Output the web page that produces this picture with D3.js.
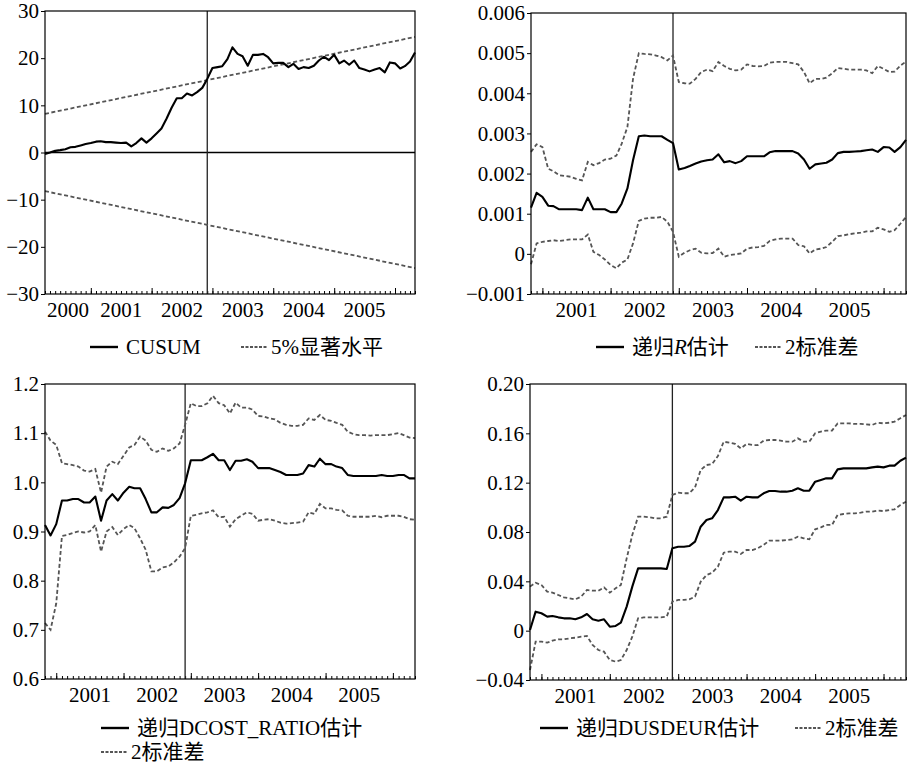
<!DOCTYPE html>
<html>
<head>
<meta charset="utf-8">
<script src="https://cdn.jsdelivr.net/npm/d3@7"></script>
<style>
body { margin: 0; background: #fff; }
</style>
</head>
<body>
<div id="chart"></div>
<script>
// monthly data; the CUSUM starts Apr 2000, the recursive estimates Nov 2000
const START_CUSUM = new Date(2000, 3, 1);
const START_REC = new Date(2000, 10, 1);
const BREAK_DATE = new Date(2002, 11, 1);

const cusum = [-0.3, 0, 0.35, 0.5, 0.7, 1.1, 1.2, 1.5, 1.8, 2.0,
  2.3, 2.4, 2.2, 2.2, 2.1, 2.0, 2.1, 1.3, 2.0, 3.0,
  2.1, 3.0, 4.1, 5.1, 7.2, 9.5, 11.5, 11.5, 12.5, 12.1,
  12.8, 13.7, 15.6, 17.9, 18.1, 18.3, 19.8, 22.3, 20.9, 20.4,
  18.4, 20.7, 20.7, 20.9, 20.2, 18.9, 19.0, 19.0, 18.1, 18.8,
  17.7, 18.1, 17.9, 18.4, 19.5, 20.3, 19.6, 20.7, 18.9, 19.5,
  18.6, 19.5, 17.9, 17.6, 17.2, 17.6, 17.9, 17.0, 19.1, 18.9,
  17.8, 18.3, 19.3, 21.2];
// 5% significance lines, first and last month
const cusumUpper = [8.2, 24.5];
const cusumLower = [-8.2, -24.5];

const rEst = [0.00115, 0.00152, 0.00142, 0.00120, 0.00119, 0.00111, 0.00111, 0.00111, 0.00111, 0.00109,
  0.00140, 0.00111, 0.00111, 0.00111, 0.00104, 0.00104, 0.00125, 0.00163, 0.00233, 0.00293,
  0.00295, 0.00293, 0.00293, 0.00293, 0.00284, 0.00276, 0.00210, 0.00214, 0.00219, 0.00225,
  0.00230, 0.00233, 0.00235, 0.00248, 0.00228, 0.00231, 0.00226, 0.00231, 0.00243, 0.00243,
  0.00243, 0.00243, 0.00253, 0.00256, 0.00256, 0.00256, 0.00256, 0.00250, 0.00235, 0.00212,
  0.00223, 0.00225, 0.00227, 0.00235, 0.00251, 0.00254, 0.00254, 0.00255, 0.00256, 0.00258,
  0.00260, 0.00254, 0.00266, 0.00265, 0.00254, 0.00266, 0.00284];
const rUpper = [0.00254, 0.00273, 0.00266, 0.00212, 0.00206, 0.00196, 0.00194, 0.00192, 0.00187, 0.00183,
  0.00229, 0.00221, 0.00226, 0.00235, 0.00237, 0.00245, 0.00274, 0.00316, 0.00436, 0.00500,
  0.00498, 0.00497, 0.00494, 0.00490, 0.00482, 0.00494, 0.00428, 0.00425, 0.00424, 0.00436,
  0.00453, 0.00459, 0.00455, 0.00478, 0.00468, 0.00461, 0.00457, 0.00459, 0.00472, 0.00468,
  0.00467, 0.00468, 0.00476, 0.00478, 0.00478, 0.00478, 0.00475, 0.00472, 0.00453, 0.00425,
  0.00436, 0.00436, 0.00439, 0.00450, 0.00463, 0.00461, 0.00459, 0.00459, 0.00459, 0.00457,
  0.00450, 0.00468, 0.00461, 0.00453, 0.00454, 0.00469, 0.00479];
const rLower = [-0.00026, 0.00026, 0.00030, 0.00032, 0.00034, 0.00032, 0.00034, 0.00036, 0.00036, 0.00036,
  0.00048, 0.00005, -0.00003, -0.00014, -0.00028, -0.00036, -0.00022, -0.00014, 0.00026, 0.00082,
  0.00088, 0.00090, 0.00090, 0.00092, 0.00080, 0.00055, -0.00007, 0.00003, 0.00009, 0.00013,
  0.00003, 0.00001, 0.00002, 0.00013, -0.00007, -0.00003, -0.00001, 0.00001, 0.00013, 0.00016,
  0.00017, 0.00020, 0.00032, 0.00036, 0.00038, 0.00038, 0.00038, 0.00022, 0.00019, 0.00001,
  0.00011, 0.00013, 0.00017, 0.00030, 0.00044, 0.00046, 0.00049, 0.00051, 0.00053, 0.00056,
  0.00056, 0.00065, 0.00061, 0.00055, 0.00059, 0.00075, 0.00092];

const costEst = [0.913, 0.892, 0.915, 0.963, 0.963, 0.966, 0.966, 0.959, 0.959, 0.971,
  0.922, 0.963, 0.976, 0.963, 0.979, 0.991, 0.988, 0.988, 0.966, 0.939,
  0.939, 0.949, 0.948, 0.954, 0.968, 0.998, 1.045, 1.045, 1.045, 1.051,
  1.058, 1.045, 1.045, 1.025, 1.044, 1.044, 1.047, 1.042, 1.029, 1.029,
  1.029, 1.025, 1.021, 1.015, 1.015, 1.015, 1.018, 1.035, 1.032, 1.048,
  1.037, 1.037, 1.032, 1.029, 1.015, 1.013, 1.013, 1.013, 1.013, 1.013,
  1.015, 1.013, 1.013, 1.015, 1.015, 1.008, 1.008];
const costUpper = [1.103, 1.085, 1.076, 1.039, 1.037, 1.035, 1.032, 1.024, 1.022, 1.027,
  0.979, 1.032, 1.042, 1.037, 1.054, 1.071, 1.076, 1.093, 1.085, 1.066,
  1.062, 1.069, 1.064, 1.069, 1.079, 1.117, 1.161, 1.155, 1.155, 1.161,
  1.176, 1.161, 1.157, 1.140, 1.162, 1.152, 1.152, 1.148, 1.135, 1.134,
  1.130, 1.128, 1.121, 1.117, 1.115, 1.115, 1.117, 1.130, 1.127, 1.137,
  1.127, 1.125, 1.121, 1.117, 1.103, 1.098, 1.096, 1.096, 1.095, 1.096,
  1.096, 1.096, 1.098, 1.100, 1.096, 1.091, 1.090];
const costLower = [0.714, 0.700, 0.754, 0.891, 0.893, 0.897, 0.900, 0.898, 0.900, 0.913,
  0.859, 0.900, 0.909, 0.893, 0.905, 0.913, 0.907, 0.886, 0.863, 0.819,
  0.819, 0.827, 0.829, 0.837, 0.849, 0.866, 0.932, 0.934, 0.937, 0.939,
  0.943, 0.929, 0.930, 0.910, 0.925, 0.932, 0.939, 0.936, 0.922, 0.924,
  0.925, 0.922, 0.918, 0.916, 0.917, 0.918, 0.920, 0.939, 0.936, 0.956,
  0.947, 0.947, 0.944, 0.943, 0.932, 0.930, 0.930, 0.930, 0.930, 0.932,
  0.929, 0.932, 0.932, 0.932, 0.930, 0.925, 0.924];

const usdEst = [0.0005, 0.0154, 0.0141, 0.0114, 0.0119, 0.0108, 0.0100, 0.0100, 0.0092, 0.0108,
  0.0135, 0.0092, 0.0081, 0.0092, 0.0032, 0.0038, 0.0065, 0.0195, 0.0357, 0.0505,
  0.0505, 0.0505, 0.0505, 0.0505, 0.0500, 0.0668, 0.0681, 0.0681, 0.0686, 0.0722,
  0.0843, 0.0897, 0.0911, 0.0978, 0.1081, 0.1081, 0.1086, 0.1054, 0.1086, 0.1081,
  0.1081, 0.1114, 0.1132, 0.1132, 0.1127, 0.1127, 0.1135, 0.1154, 0.1135, 0.1135,
  0.1208, 0.1222, 0.1235, 0.1235, 0.1308, 0.1316, 0.1316, 0.1316, 0.1316, 0.1316,
  0.1324, 0.1330, 0.1324, 0.1338, 0.1338, 0.1378, 0.1403];
const usdUpper = [0.0357, 0.0389, 0.0370, 0.0316, 0.0308, 0.0289, 0.0270, 0.0262, 0.0254, 0.0276,
  0.0330, 0.0324, 0.0324, 0.0351, 0.0308, 0.0343, 0.0370, 0.0586, 0.0776, 0.0924,
  0.0924, 0.0919, 0.0911, 0.0911, 0.0924, 0.1100, 0.1119, 0.1114, 0.1114, 0.1162,
  0.1303, 0.1343, 0.1351, 0.1416, 0.1532, 0.1524, 0.1514, 0.1478, 0.1514, 0.1505,
  0.1505, 0.1541, 0.1546, 0.1546, 0.1541, 0.1532, 0.1532, 0.1559, 0.1532, 0.1532,
  0.1600, 0.1614, 0.1622, 0.1622, 0.1681, 0.1681, 0.1681, 0.1676, 0.1676, 0.1673,
  0.1668, 0.1686, 0.1681, 0.1686, 0.1695, 0.1722, 0.1749];
const usdLower = [-0.0319, -0.0089, -0.0089, -0.0097, -0.0081, -0.0070, -0.0070, -0.0062, -0.0057, -0.0049,
  -0.0043, -0.0116, -0.0157, -0.0170, -0.0238, -0.0251, -0.0238, -0.0157, -0.0049, 0.0100,
  0.0108, 0.0108, 0.0108, 0.0108, 0.0114, 0.0235, 0.0249, 0.0249, 0.0254, 0.0276,
  0.0397, 0.0451, 0.0470, 0.0519, 0.0632, 0.0641, 0.0641, 0.0622, 0.0654, 0.0654,
  0.0668, 0.0695, 0.0730, 0.0730, 0.0730, 0.0735, 0.0741, 0.0762, 0.0749, 0.0741,
  0.0822, 0.0838, 0.0857, 0.0857, 0.0938, 0.0946, 0.0951, 0.0951, 0.0957, 0.0965,
  0.0965, 0.0973, 0.0970, 0.0978, 0.0984, 0.1019, 0.1046];

const ticks1 = [30, 20, 10, 0, -10, -20, -30];
const labels1 = ["30", "20", "10", "0", "\u221210", "\u221220", "\u221230"];
const ticks2 = [0.006, 0.005, 0.004, 0.003, 0.002, 0.001, 0, -0.001];
const labels2 = ["0.006", "0.005", "0.004", "0.003", "0.002", "0.001", "0", "\u22120.001"];
const ticks3 = [1.2, 1.1, 1.0, 0.9, 0.8, 0.7, 0.6];
const labels3 = ["1.2", "1.1", "1.0", "0.9", "0.8", "0.7", "0.6"];
const ticks4 = [0.20, 0.16, 0.12, 0.08, 0.04, 0, -0.04];
const labels4 = ["0.20", "0.16", "0.12", "0.08", "0.04", "0", "\u22120.04"];

const SOLID_NAMES = ["CUSUM", "递归R估计", "递归DCOST_RATIO估计", "递归DUSDEUR估计"];
const DASH_NAMES = ["5%显著水平", "2标准差", "2标准差", "2标准差"];

const WIDTH = 912, HEIGHT = 764;
const DASH = "4,2.5";
const FONT = "'Liberation Serif', 'DejaVu Serif', 'Noto Sans CJK SC', serif";

const svg = d3.select("#chart").append("svg")
  .attr("width", WIDTH)
  .attr("height", HEIGHT);

function months(start, values) {
  return values.map((v, i) => ({date: d3.timeMonth.offset(start, i), value: v}));
}

function drawPanel(p) {
  const last = d3.timeMonth.offset(p.start, p.n - 1);
  const x = d3.scaleTime().domain([p.start, last]).range([p.left, p.right]);
  const y = d3.scaleLinear().domain([p.ticks[p.ticks.length - 1], p.ticks[0]]).range([p.bottom, p.top]);
  const g = svg.append("g");

  // bottom axis: monthly minor ticks, yearly major ticks, inside the frame
  const minor = g.append("g").attr("transform", "translate(0," + p.bottom + ")")
    .call(d3.axisBottom(x).ticks(d3.timeMonth.every(1)).tickSize(-3).tickFormat(""));
  minor.select(".domain").remove();
  const major = g.append("g").attr("transform", "translate(0," + p.bottom + ")")
    .call(d3.axisBottom(x).ticks(d3.timeYear.every(1)).tickSize(-6).tickFormat(""));
  major.select(".domain").remove();
  g.selectAll(".tick line").attr("stroke", "#000").attr("stroke-width", 1);

  // year labels, centred in the visible part of each year
  d3.timeYear.range(d3.timeYear.floor(p.start), last).forEach(yr => {
    const a = yr < p.start ? p.start : yr;
    const nxt = d3.timeYear.offset(yr, 1);
    const b = nxt > last ? last : nxt;
    if (d3.timeMonth.count(a, b) < 6) return;
    g.append("text")
      .attr("x", (x(a) + x(b)) / 2)
      .attr("y", p.bottom + 23)
      .attr("text-anchor", "middle")
      .style("font-family", FONT)
      .attr("font-size", 21)
      .text(yr.getFullYear());
  });

  // left axis
  const ya = g.append("g").attr("transform", "translate(" + p.left + ",0)")
    .call(d3.axisLeft(y).tickValues(p.ticks).tickSize(4).tickPadding(2)
      .tickFormat((d, i) => p.labels[i]));
  ya.select(".domain").remove();
  ya.selectAll("text").style("font-family", FONT).attr("font-size", 21).attr("fill", "#000");
  ya.selectAll("line").attr("stroke", "#000");

  if (p.zero) {
    g.append("line")
      .attr("x1", p.left).attr("x2", p.right)
      .attr("y1", y(0)).attr("y2", y(0))
      .attr("stroke", "#000").attr("stroke-width", 1.3);
  }

  g.append("line")
    .attr("x1", x(BREAK_DATE)).attr("x2", x(BREAK_DATE))
    .attr("y1", p.top).attr("y2", p.bottom)
    .attr("stroke", "#222").attr("stroke-width", 1.3);

  const line = d3.line().x(d => x(d.date)).y(d => y(d.value));

  p.dashed.forEach(s => {
    g.append("path")
      .datum(s)
      .attr("fill", "none")
      .attr("stroke", "#555")
      .attr("stroke-width", 1.8)
      .attr("stroke-dasharray", DASH)
      .attr("d", line);
  });

  g.append("path")
    .datum(p.solid)
    .attr("fill", "none")
    .attr("stroke", "#000")
    .attr("stroke-width", 2.1)
    .attr("stroke-linejoin", "round")
    .attr("d", line);

  g.append("rect")
    .attr("x", p.left).attr("y", p.top)
    .attr("width", p.right - p.left).attr("height", p.bottom - p.top)
    .attr("fill", "none").attr("stroke", "#000").attr("stroke-width", 1.2);

  // legend
  const lg = p.legend;
  g.append("line")
    .attr("x1", lg.sx).attr("x2", lg.sx + 28).attr("y1", lg.sy).attr("y2", lg.sy)
    .attr("stroke", "#000").attr("stroke-width", 2.4);
  const st = g.append("text").attr("x", lg.sx + 36).attr("y", lg.sy + 7)
    .style("font-family", FONT).attr("font-size", 21);
  if (lg.italicR) {
    st.append("tspan").text("递归");
    st.append("tspan").attr("font-style", "italic").text("R");
    st.append("tspan").text("估计");
  } else {
    st.text(lg.solidName);
  }
  g.append("line")
    .attr("x1", lg.dx).attr("x2", lg.dx + 26).attr("y1", lg.dy).attr("y2", lg.dy)
    .attr("stroke", "#555").attr("stroke-width", 1.8).attr("stroke-dasharray", "3,1.5");
  g.append("text").attr("x", lg.dx + 30).attr("y", lg.dy + 7)
    .style("font-family", FONT).attr("font-size", 21).text(lg.dashName);
}

const lastCusum = d3.timeMonth.offset(START_CUSUM, cusum.length - 1);

drawPanel({
  left: 45, right: 415, top: 11, bottom: 294, start: START_CUSUM, n: cusum.length,
  ticks: ticks1, labels: labels1, zero: true,
  solid: months(START_CUSUM, cusum),
  dashed: [
    [{date: START_CUSUM, value: cusumUpper[0]}, {date: lastCusum, value: cusumUpper[1]}],
    [{date: START_CUSUM, value: cusumLower[0]}, {date: lastCusum, value: cusumLower[1]}]
  ],
  legend: {sx: 90, sy: 347, solidName: SOLID_NAMES[0], dx: 241, dy: 347, dashName: DASH_NAMES[0]}
});

drawPanel({
  left: 531, right: 906, top: 13, bottom: 294, start: START_REC, n: rEst.length,
  ticks: ticks2, labels: labels2,
  solid: months(START_REC, rEst),
  dashed: [months(START_REC, rUpper), months(START_REC, rLower)],
  legend: {sx: 596, sy: 347, italicR: true, solidName: SOLID_NAMES[1], dx: 755, dy: 347, dashName: DASH_NAMES[1]}
});

drawPanel({
  left: 45, right: 415, top: 384, bottom: 679, start: START_REC, n: costEst.length,
  ticks: ticks3, labels: labels3,
  solid: months(START_REC, costEst),
  dashed: [months(START_REC, costUpper), months(START_REC, costLower)],
  legend: {sx: 101, sy: 728, solidName: SOLID_NAMES[2], dx: 101, dy: 752, dashName: DASH_NAMES[2]}
});

drawPanel({
  left: 530, right: 906, top: 384, bottom: 680, start: START_REC, n: usdEst.length,
  ticks: ticks4, labels: labels4,
  solid: months(START_REC, usdEst),
  dashed: [months(START_REC, usdUpper), months(START_REC, usdLower)],
  legend: {sx: 540, sy: 728, solidName: SOLID_NAMES[3], dx: 795, dy: 728, dashName: DASH_NAMES[3]}
});
</script>
</body>
</html>
